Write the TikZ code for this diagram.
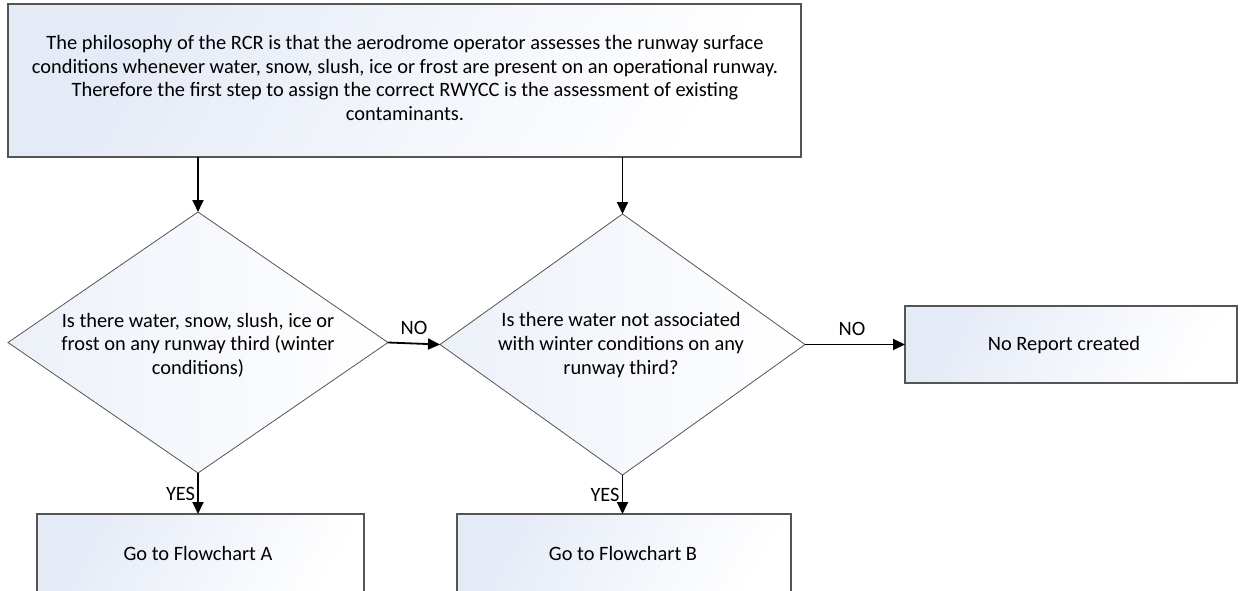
\documentclass[tikz,border=0pt]{standalone}
\usepackage{fontspec}
\setmainfont{Carlito}
\usetikzlibrary{shapes.geometric,arrows.meta}
\definecolor{edge}{HTML}{555555}
\definecolor{shadeblue}{HTML}{E4EAF6}
\tikzset{
  boxshape/.style={draw=edge, line width=1.1pt, left color=shadeblue, right color=white, shading angle=60, inner sep=0pt, outer sep=0pt},
  decision/.style={draw=edge, line width=0.8pt, diamond, inner sep=0pt, outer sep=0pt, left color=shadeblue!70!white, right color=white},
  txt/.style={font=\fontsize{20.4pt}{23.6pt}\selectfont, align=center, inner sep=0pt},
  lbl/.style={font=\fontsize{20.4pt}{23pt}\selectfont, inner sep=0pt},
  arr/.style={-{Triangle[length=12pt,width=11pt]}, line width=1.8pt, black}
}
\begin{document}
\begin{tikzpicture}[x=1pt,y=-1pt]
\useasboundingbox (0,0) rectangle (1242,591);
\clip (0,0) rectangle (1242,591);
\fill[white] (0,0) rectangle (1242,591);
% top box
\node[boxshape, minimum width=793pt, minimum height=153pt] (top) at (404.5,80.5) {};
\node[txt] (toptext) at (405,78) {The philosophy of the RCR is that the aerodrome operator assesses the runway surface\\conditions whenever water, snow, slush, ice or frost are present on an operational runway.\\Therefore the first step to assign the correct RWYCC is the assessment of existing\\contaminants.};
% diamonds
\node[decision, minimum width=380pt, minimum height=261pt] (d1) at (198,342.5) {};
\node[txt] (d1text) at (198,345) {Is there water, snow, slush, ice or\\frost on any runway third (winter\\conditions)};
\node[decision, minimum width=365pt, minimum height=261pt] (d2) at (622.5,344.5) {};
\node[txt] (d2text) at (621,345) {Is there water not associated\\with winter conditions on any\\runway third?};
% result boxes
\node[boxshape, minimum width=332pt, minimum height=77pt] (norep) at (1071,344.5) {};
\node[txt] (noreptext) at (1064,345) {No Report created};
\node[boxshape, minimum width=327pt, minimum height=90pt] (fa) at (200.5,559) {};
\node[txt] (fatext) at (198,553) {Go to Flowchart A};
\node[boxshape, minimum width=334pt, minimum height=90pt] (fb) at (624,559) {};
\node[txt] (fbtext) at (623,553) {Go to Flowchart B};
% connectors
\coordinate (s1) at (top.south -| d1.north);
\coordinate (s2) at (top.south -| d2.north);
\draw[arr] (s1) -- (d1.north);
\draw[arr] (s2) -- (d2.north);
\draw[arr] (d1.east) -- (d2.west) node[lbl, midway, above=8pt] (no1) {NO};
\draw[arr] (d2.east) -- (d2.east -| norep.west) node[lbl, pos=0.47, above=8pt] (no2) {NO};
\draw[arr] (d1.south) -- (d1.south |- fa.north) node[lbl, midway, left=2pt] (yes1) {YES};
\draw[arr] (d2.south) -- (d2.south |- fb.north) node[lbl, midway, left=2pt] (yes2) {YES};
\end{tikzpicture}
\end{document}
